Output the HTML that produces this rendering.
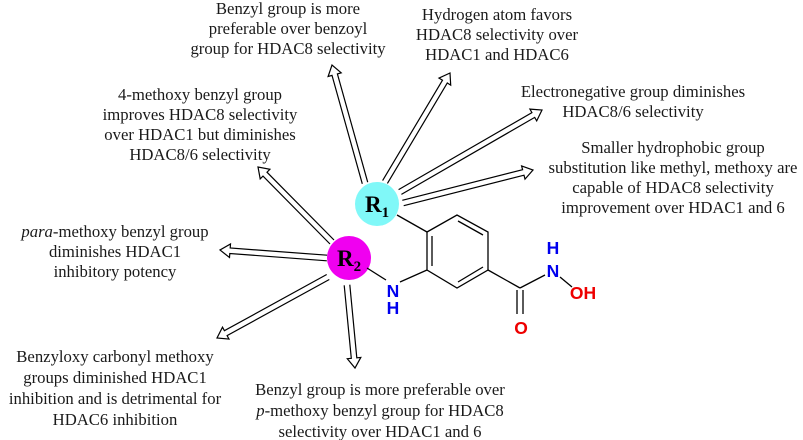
<!DOCTYPE html>
<html><head><meta charset="utf-8"><style>
html,body{margin:0;padding:0;background:#fff;}
svg{display:block;}
text{font-family:"Liberation Serif",serif;font-size:16.7px;fill:#1a1a1a;}
.c{text-anchor:middle;}
.a{font-family:"Liberation Sans",sans-serif;font-size:17.5px;font-weight:bold;text-anchor:middle;}
</style></head><body>
<svg id="s" width="803" height="440" viewBox="0 0 803 440" xmlns="http://www.w3.org/2000/svg">
<g id="arrows" fill="#fff" stroke="#000" stroke-width="1.2" stroke-linejoin="miter"></g>
<circle cx="377" cy="204" r="22" fill="#80f8f8"/>
<circle cx="349" cy="258" r="22" fill="#f000f0"/>
<text x="377" y="212" class="c" style="font-size:23px;font-weight:bold;fill:#000">R<tspan style="font-size:15px" dy="5">1</tspan></text>
<text x="349" y="266" class="c" style="font-size:23px;font-weight:bold;fill:#000">R<tspan style="font-size:15px" dy="5">2</tspan></text>
<g stroke="#000" stroke-width="1.3" fill="none">
<line x1="397" y1="215" x2="427" y2="232"/>
<polygon points="427,232 457,215 488,232 488,270 457,288 427,270"/>
<line x1="432" y1="236" x2="432" y2="266"/>
<line x1="458" y1="221" x2="483" y2="235"/>
<line x1="483" y1="267" x2="458" y2="282"/>
<line x1="367" y1="268" x2="386" y2="280"/>
<line x1="400" y1="282" x2="427" y2="270"/>
<line x1="488" y1="270" x2="520" y2="288"/>
<line x1="517" y1="290" x2="517" y2="314"/>
<line x1="523" y1="290" x2="523" y2="314"/>
<line x1="520" y1="288" x2="545" y2="275"/>
<line x1="560" y1="277" x2="572" y2="287"/>
</g>
<text x="393" y="297" class="a" style="fill:#0000ee">N</text>
<text x="393" y="314" class="a" style="fill:#0000ee">H</text>
<text x="553" y="254" class="a" style="fill:#0000ee">H</text>
<text x="553" y="277" class="a" style="fill:#0000ee">N</text>
<text x="521" y="334" class="a" style="fill:#ee0000">O</text>
<text x="583" y="299" class="a" style="fill:#ee0000">OH</text>

<text class="c" x="288" y="14">Benzyl group is more</text>
<text class="c" x="288" y="34">preferable over benzoyl</text>
<text class="c" x="288" y="54">group for HDAC8 selectivity</text>

<text class="c" x="497" y="20">Hydrogen atom favors</text>
<text class="c" x="497" y="40">HDAC8 selectivity over</text>
<text class="c" x="497" y="60">HDAC1 and HDAC6</text>

<text class="c" x="633" y="97">Electronegative group diminishes</text>
<text class="c" x="633" y="117">HDAC8/6 selectivity</text>

<text class="c" x="673" y="153">Smaller hydrophobic group</text>
<text class="c" x="673" y="173">substitution like methyl, methoxy are</text>
<text class="c" x="673" y="193">capable of HDAC8 selectivity</text>
<text class="c" x="673" y="213">improvement over HDAC1 and 6</text>

<text class="c" x="200" y="100">4-methoxy benzyl group</text>
<text class="c" x="200" y="120">improves HDAC8 selectivity</text>
<text class="c" x="200" y="140">over HDAC1 but diminishes</text>
<text class="c" x="200" y="160">HDAC8/6 selectivity</text>

<text class="c" x="115" y="237"><tspan font-style="italic">para</tspan>-methoxy benzyl group</text>
<text class="c" x="115" y="257">diminishes HDAC1</text>
<text class="c" x="115" y="277">inhibitory potency</text>

<text class="c" x="115" y="362">Benzyloxy carbonyl methoxy</text>
<text class="c" x="115" y="383">groups diminished HDAC1</text>
<text class="c" x="115" y="404">inhibition and is detrimental for</text>
<text class="c" x="115" y="425">HDAC6 inhibition</text>

<text class="c" x="380" y="395">Benzyl group is more preferable over</text>
<text class="c" x="380" y="416"><tspan font-style="italic">p</tspan>-methoxy benzyl group for HDAC8</text>
<text class="c" x="380" y="437">selectivity over HDAC1 and 6</text>
</svg>
<script>
var A=[[365,183,332,65],[385,182,450,73],[400,192,542,110],[403,203,533,170],
[332,242,258,167],[327,258,220,250],[328,277,217,338],[347,285,355,368]];
var g=document.getElementById('arrows');
A.forEach(function(a){
var sx=a[0],sy=a[1],tx=a[2],ty=a[3];
var dx=tx-sx,dy=ty-sy,L=Math.hypot(dx,dy),ux=dx/L,uy=dy/L,nx=-uy,ny=ux;
var w=2.8,H=6.8,hl=10;
var bx=tx-ux*hl,by=ty-uy*hl;
function p(x,y){return x.toFixed(1)+','+y.toFixed(1);}
var pts=[p(sx+nx*w,sy+ny*w),p(bx+nx*w,by+ny*w),p(bx+nx*H,by+ny*H),p(tx,ty),
p(bx-nx*H,by-ny*H),p(bx-nx*w,by-ny*w),p(sx-nx*w,sy-ny*w)];
var e=document.createElementNS('http://www.w3.org/2000/svg','polyline');
e.setAttribute('points',pts.join(' '));
g.appendChild(e);
});
</script>
</body></html>
